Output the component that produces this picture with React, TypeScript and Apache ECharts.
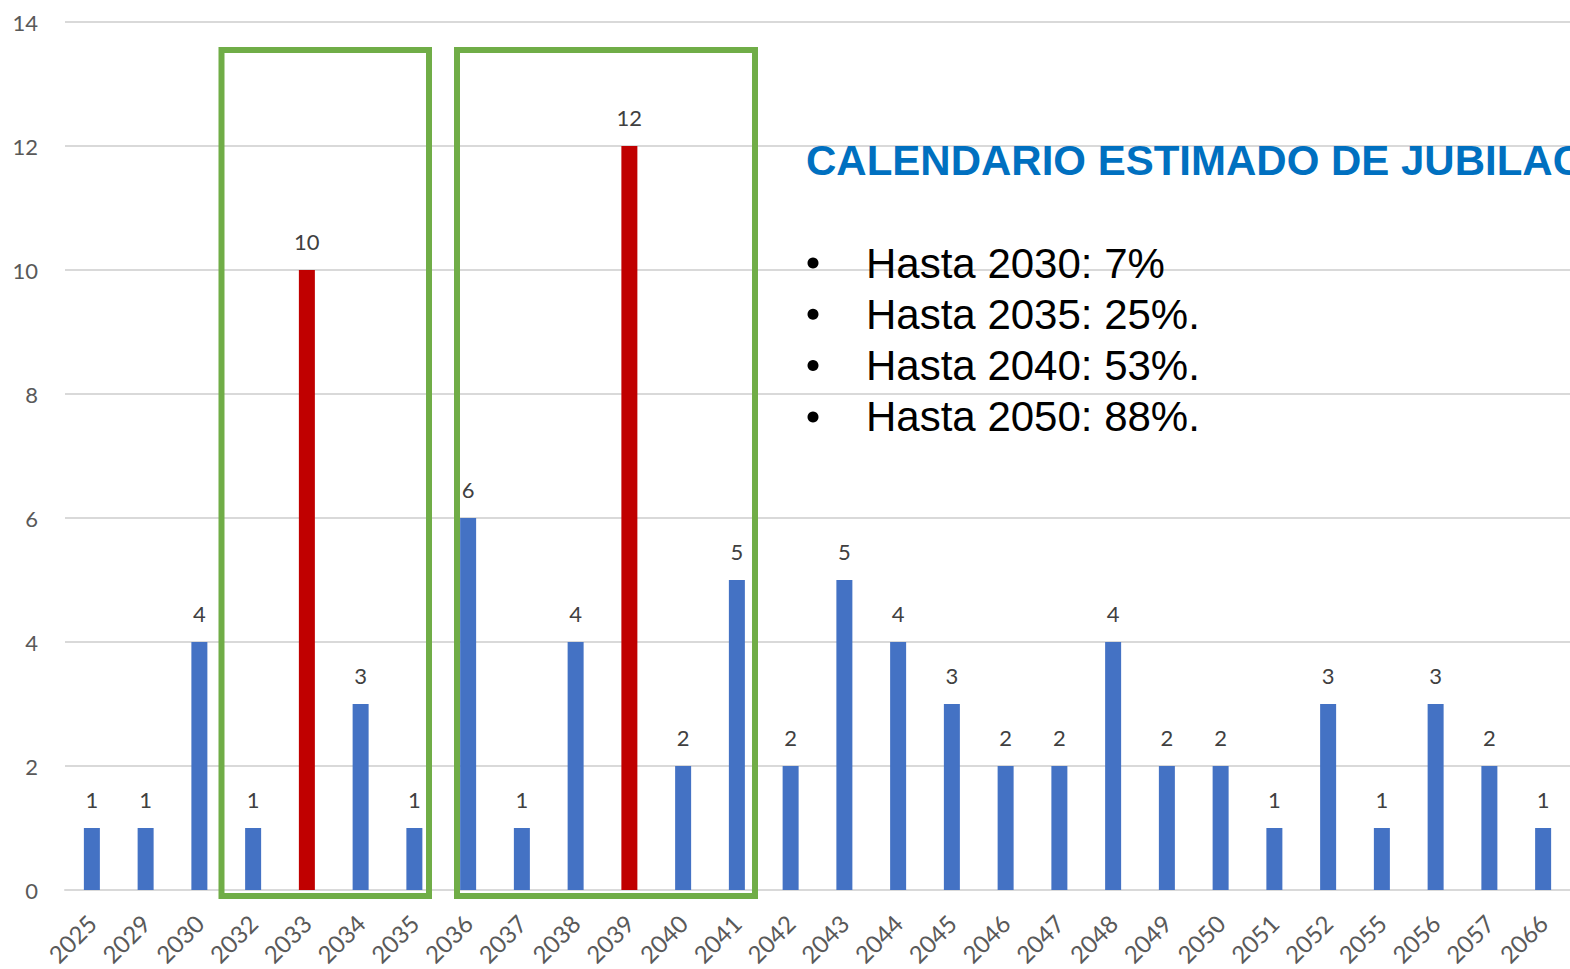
import React, { useEffect, useRef } from "react";
import * as echarts from "echarts";

const years = ["2025","2029","2030","2032","2033","2034","2035","2036","2037","2038","2039","2040","2041","2042","2043","2044","2045","2046","2047","2048","2049","2050","2051","2052","2055","2056","2057","2066"];
const counts = [1,1,4,1,10,3,1,6,1,4,12,2,5,2,5,4,3,2,2,4,2,2,1,3,1,3,2,1];
const highlighted = ["2033","2039"];
const yTicks = [0, 2, 4, 6, 8, 10, 12, 14];
const title = "CALENDARIO ESTIMADO DE JUBILACIÓN";
const bullets = ["Hasta 2030: 7%", "Hasta 2035: 25%.", "Hasta 2040: 53%.", "Hasta 2050: 88%."];

const BLUE = "#4472C4";
const RED = "#C00000";
const GREEN = "#70AD47";

export default function App() {
  const ref = useRef<HTMLDivElement>(null);
  useEffect(() => {
    if (!ref.current) return;
    const chart = echarts.init(ref.current, null, { renderer: "svg" });
    const graphic: any[] = [
      { type: "rect", shape: { x: 221.5, y: 50, width: 207.5, height: 846 }, style: { fill: "none", stroke: GREEN, lineWidth: 6 }, z: 10 },
      { type: "rect", shape: { x: 457, y: 50, width: 298, height: 846 }, style: { fill: "none", stroke: GREEN, lineWidth: 6 }, z: 10 },
      { type: "text", x: 806, y: 160, style: { text: title, fill: "#0070C0", font: "bold 42px 'Liberation Sans', Arial, sans-serif", textVerticalAlign: "middle" }, z: 10 },
    ];
    bullets.forEach((b, i) => {
      graphic.push({ type: "circle", shape: { cx: 813, cy: 263 + i * 51.3, r: 5.5 }, style: { fill: "#000" }, z: 10 });
      graphic.push({ type: "text", x: 866, y: 263 + i * 51.3, style: { text: b, fill: "#000", font: "42px 'Liberation Sans', Arial, sans-serif", textVerticalAlign: "middle" }, z: 10 });
    });
    chart.setOption({
      animation: false,
      backgroundColor: "#fff",
      grid: { left: 65, right: 0, top: 22, bottom: 79, containLabel: false },
      xAxis: {
        type: "category",
        data: years,
        axisLine: { lineStyle: { color: "#d9d9d9", width: 2 } },
        axisTick: { show: false },
        axisLabel: { rotate: 45, color: "#595959", fontSize: 24, fontFamily: "Lato, 'Open Sans', sans-serif", margin: 29, interval: 0 },
      },
      yAxis: {
        type: "value",
        min: yTicks[0],
        max: yTicks[yTicks.length - 1],
        interval: 2,
        axisLine: { show: false },
        axisTick: { show: false },
        splitLine: { lineStyle: { color: "#d9d9d9", width: 2 } },
        axisLabel: { color: "#595959", fontSize: 22, fontFamily: "Lato, 'Open Sans', sans-serif", margin: 27 },
      },
      series: [
        {
          type: "bar",
          barWidth: 16,
          data: counts.map((v, i) => ({ value: v, itemStyle: { color: highlighted.includes(years[i]) ? RED : BLUE } })),
          label: { show: true, position: "top", distance: 18, color: "#404040", fontSize: 22, fontFamily: "Lato, 'Open Sans', sans-serif" },
        },
      ],
      graphic,
    });
    return () => chart.dispose();
  }, []);
  return <div ref={ref} style={{ position: "fixed", left: 0, top: 0, width: 1570, height: 969 }} />;
}
